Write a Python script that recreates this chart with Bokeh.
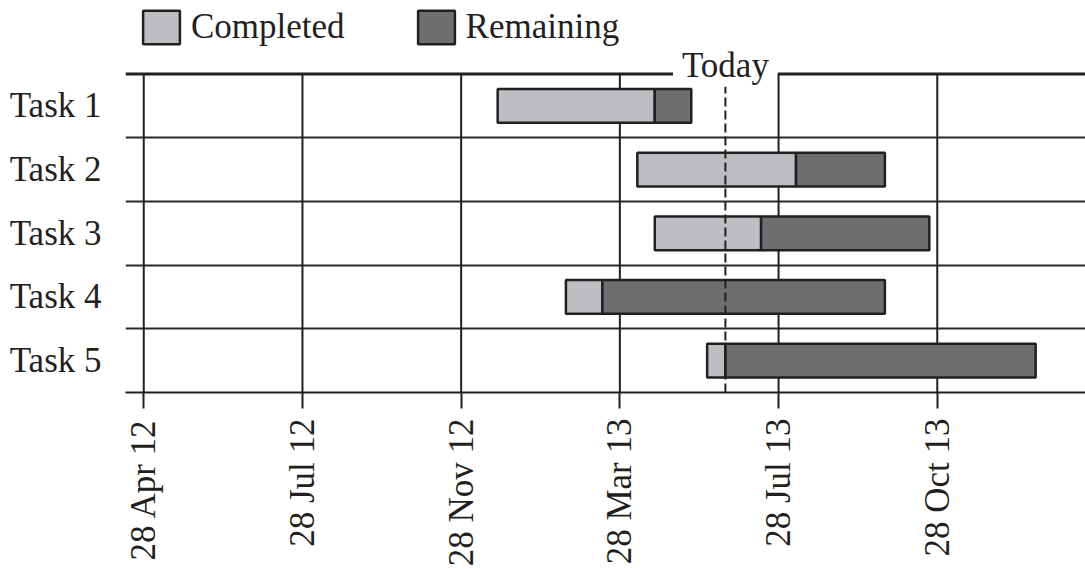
import math
from bokeh.plotting import figure
from bokeh.models import Range1d, FixedTicker, Label, Legend, LegendItem, ColumnDataSource
from bokeh.embed import file_html
from bokeh.resources import INLINE

# ---- data (x in tick-index units: 0 = "28 Apr 12", 1 = "28 Jul 12", ...) ----
tasks = ["Task 1", "Task 2", "Task 3", "Task 4", "Task 5"]
start = [2.23, 3.11, 3.22, 2.66, 3.55]
split = [3.22, 4.11, 3.89, 2.89, 3.665]
end = [3.45, 4.67, 4.95, 4.67, 5.62]
tick_labels = ["28 Apr 12", "28 Jul 12", "28 Nov 12", "28 Mar 13", "28 Jul 13", "28 Oct 13"]
today = 3.665
series = ["Completed", "Remaining"]

FONT = "Liberation Serif"
INK = "#231f20"
C_DONE = "#bdbec1"
C_LEFT = "#6d6e70"

n = len(tasks)
ypos = [n - i - 0.5 for i in range(n)]
ticks = list(range(len(tick_labels)))
TOP_PAD = 74 / 64      # room above the chart for legend and "Today"
X0, X1 = -0.115, 5.934  # visible x extent
GAP = 0.33              # half-width of the gap in the top rule around "Today"

src = ColumnDataSource(dict(y=ypos, start=start, split=split, end=end, task=tasks))
grid_src = ColumnDataSource(dict(x=ticks, y0=[0] * len(ticks), y1=[n] * len(ticks)))

p = figure(width=1085, height=569, output_backend="svg", toolbar_location=None,
           x_range=Range1d(X0, X1), y_range=Range1d(0, n + TOP_PAD),
           min_border_left=125, min_border_right=0, min_border_top=0, min_border_bottom=175)
p.outline_line_color = None
p.background_fill_color = "white"
p.border_fill_color = "white"

# grids
p.xgrid.grid_line_color = None
p.segment(x0="x", x1="x", y0="y0", y1="y1", source=grid_src, line_color=INK, line_width=2)
p.ygrid.ticker = FixedTicker(ticks=list(range(1, n)))
p.ygrid.grid_line_color = "#2a2a2a"
p.ygrid.grid_line_width = 2

# x axis
xa = p.xaxis[0]
xa.ticker = FixedTicker(ticks=ticks)
xa.major_label_overrides = {t: lab for t, lab in zip(ticks, tick_labels)}
xa.major_label_orientation = math.pi / 2
xa.major_label_text_font = FONT
xa.major_label_text_font_size = "35px"
xa.major_label_text_color = INK
xa.major_tick_out = 16
xa.major_tick_in = 0
xa.major_tick_line_width = 2
xa.major_tick_line_color = INK
xa.minor_tick_line_color = None
xa.axis_line_width = 2
xa.axis_line_color = INK
xa.major_label_standoff = 10

# y axis
ya = p.yaxis[0]
ya.ticker = FixedTicker(ticks=ypos)
ya.major_label_overrides = {y: t for y, t in zip(ypos, tasks)}
ya.major_label_text_font = FONT
ya.major_label_text_font_size = "35px"
ya.major_label_text_color = INK
ya.major_tick_line_color = None
ya.minor_tick_line_color = None
ya.axis_line_color = None
ya.major_label_standoff = 18

# bars
r1 = p.hbar(y="y", left="start", right="split", height=0.53, source=src,
            fill_color=C_DONE, line_color=INK, line_width=2.5)
r2 = p.hbar(y="y", left="split", right="end", height=0.53, source=src,
            fill_color=C_LEFT, line_color=INK, line_width=2.5)

# today marker (drawn over bars), top rule with a gap for the label
p.segment(x0=[today], x1=[today], y0=[0], y1=[n - 0.2], line_color=INK, line_width=2,
          line_dash="9 4")
p.segment(x0=[X0, today + GAP], x1=[today - GAP, X1], y0=[n, n], y1=[n, n],
          line_color=INK, line_width=3)
p.add_layout(Label(x=today, y=n, text="Today", text_align="center", text_baseline="alphabetic",
                   y_offset=9, text_font=FONT, text_font_size="35px", text_color=INK))

legend = Legend(items=[LegendItem(label=series[0], renderers=[r1]),
                       LegendItem(label=series[1], renderers=[r2])],
                location=(13, 344), orientation="horizontal",
                glyph_width=46, glyph_height=42, label_height=42, label_standoff=7,
                spacing=68, padding=0, margin=0, border_line_color=None,
                background_fill_alpha=0, label_text_font=FONT, label_text_font_size="35px",
                label_text_color=INK)
p.add_layout(legend)

open("out.html", "w").write(file_html(p, INLINE))
